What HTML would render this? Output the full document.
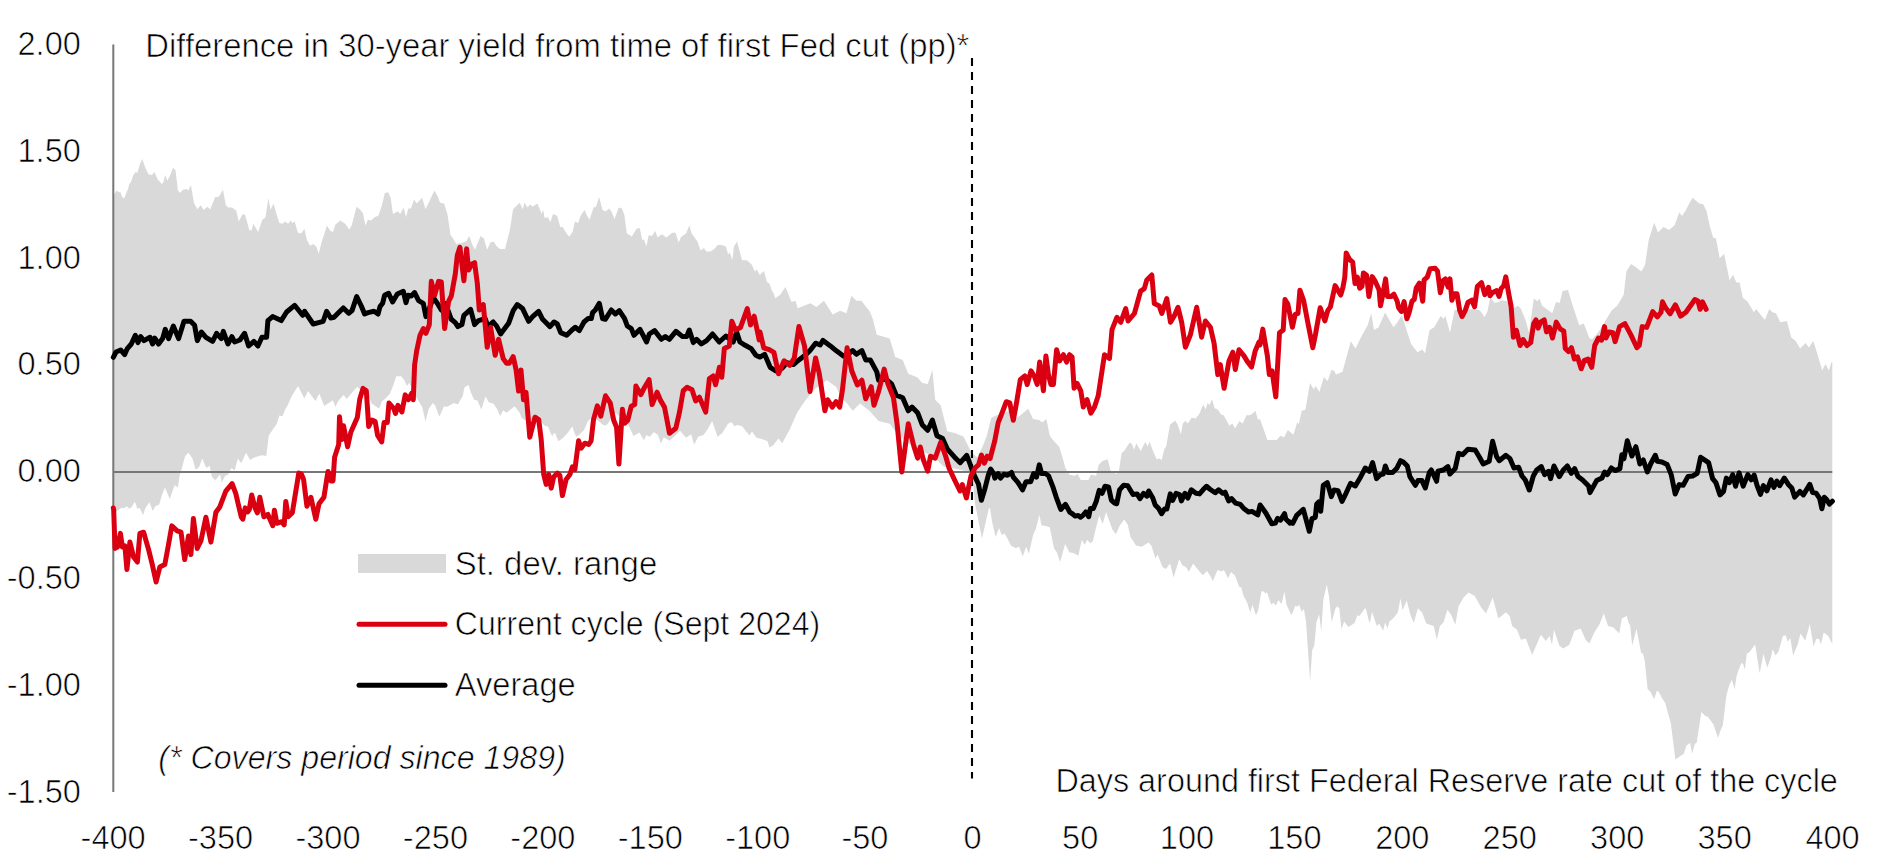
<!DOCTYPE html>
<html><head><meta charset="utf-8"><style>
html,body{margin:0;padding:0;background:#fff;}
body{width:1886px;height:863px;overflow:hidden;}
svg{display:block;font-family:"Liberation Sans", sans-serif;fill:#000;}
text{font-size:33.4px;fill:#000;stroke:#fff;stroke-width:0.7px;}
</style></head><body>
<svg width="1886" height="863" viewBox="0 0 1886 863">
<polygon points="113.3,193.8 114.6,193.8 116.6,190.6 118.7,192.2 120.3,191.9 121.9,196.2 124.0,198.7 126.0,193.8 128.4,188.1 129.2,184.1 130.8,182.4 133.3,175.1 135.7,171.9 137.3,172.7 139.8,164.6 142.2,158.9 145.4,167.8 148.4,174.3 151.9,175.1 154.4,171.9 157.6,179.2 161.7,184.1 163.3,182.4 165.2,175.1 167.3,180.8 170.6,174.3 173.0,167.8 175.5,170.3 177.9,190.6 180.3,193.0 182.8,189.7 186.8,188.9 188.4,190.6 190.9,184.9 194.1,203.5 197.4,209.2 200.6,205.2 203.9,210.0 207.1,206.8 210.3,209.2 215.2,197.0 218.5,197.0 223.0,189.7 225.8,205.2 228.2,207.6 232.2,207.6 236.3,210.8 238.7,221.4 242.8,214.1 245.2,214.9 249.3,230.3 251.7,230.3 253.3,223.8 258.2,231.9 262.3,219.8 265.5,217.3 268.4,197.9 270.4,210.0 273.6,203.5 276.0,212.5 279.3,223.0 282.5,223.8 285.0,221.4 288.2,223.8 290.6,220.6 292.3,223.0 294.7,221.4 297.9,232.7 301.2,233.5 304.4,228.7 306.9,240.0 310.1,245.7 313.4,244.1 316.6,247.3 318.7,253.8 321.5,242.5 324.7,232.7 326.8,225.4 330.4,231.1 333.0,231.9 333.0,231.9 335.4,224.6 340.3,220.6 345.2,223.8 349.2,229.5 351.7,225.4 356.5,206.8 359.8,209.2 363.0,213.3 365.4,225.4 367.9,219.7 371.1,220.6 374.4,217.3 378.4,215.7 381.7,206.0 384.9,193.0 388.2,192.2 390.6,197.8 393.0,214.1 395.5,212.4 397.9,211.6 400.3,214.1 403.6,207.6 406.0,217.3 408.4,208.4 410.9,208.4 414.1,199.5 416.5,203.5 422.2,197.8 425.5,209.2 429.5,201.1 434.4,190.5 437.6,196.2 440.1,202.7 444.1,203.5 447.4,214.1 450.6,235.2 453.1,238.4 456.3,244.1 462.8,242.5 466.0,241.6 469.3,236.0 472.5,244.9 475.0,249.8 480.6,236.0 483.9,238.4 487.1,249.8 490.4,242.5 493.6,241.6 496.9,246.5 500.1,248.9 505.0,248.9 509.8,230.3 513.1,209.2 519.6,202.7 522.8,209.2 524.4,202.7 527.7,207.6 530.1,204.3 532.5,206.8 537.4,203.5 539.8,209.2 541.5,214.1 543.1,210.0 544.7,218.1 548.0,217.3 550.4,222.2 553.0,214.1 553.0,214.1 557.1,215.7 560.3,227.0 562.7,227.0 566.0,232.7 569.2,236.8 572.5,231.9 574.9,221.4 578.1,223.0 580.6,215.7 584.6,210.0 587.1,215.7 589.5,219.7 593.6,207.6 596.0,206.8 599.2,197.0 602.5,210.0 605.7,211.6 609.0,208.4 611.4,211.6 614.6,218.9 618.7,207.6 621.9,208.4 624.4,214.9 626.8,233.5 630.1,235.2 631.7,236.8 636.5,228.7 639.8,227.9 642.2,240.0 643.9,239.2 646.3,246.5 648.7,235.2 652.0,236.0 655.2,231.1 657.6,237.6 661.7,234.3 666.6,237.6 668.2,236.0 672.2,232.7 675.5,232.7 678.7,242.5 681.2,236.8 686.0,233.5 689.3,225.4 691.7,233.5 697.4,241.6 700.6,250.6 703.9,248.1 706.3,251.4 710.4,251.4 714.4,248.9 717.7,244.9 721.7,244.9 725.8,246.5 728.2,254.6 729.8,252.2 732.3,260.3 733.9,246.5 737.1,241.6 742.0,260.3 746.9,260.3 751.7,264.4 755.0,271.7 756.6,269.2 759.8,274.9 763.9,270.9 767.1,282.2 769.6,283.8 772.0,291.1 773.0,291.9 775.4,298.3 780.4,294.6 785.4,287.1 791.6,302.1 795.3,300.8 797.8,308.3 804.1,305.8 810.3,303.3 816.5,307.1 824.0,300.8 832.7,314.5 840.2,310.8 846.4,313.3 851.4,295.8 856.4,300.8 861.4,300.8 870.1,312.0 873.1,320.0 876.8,334.8 889.7,338.5 895.3,357.1 902.7,359.9 908.3,373.8 917.6,377.5 922.2,383.0 927.7,383.9 932.4,370.0 935.2,399.7 940.7,405.3 947.2,431.2 954.6,433.1 963.4,436.5 968.1,445.7 971.5,452.7 977.3,457.3 982.0,448.1 986.6,436.5 991.2,417.9 995.9,415.6 1002.8,414.5 1009.8,409.8 1016.7,417.9 1021.4,414.5 1028.3,408.7 1033.0,419.1 1039.9,420.3 1040.0,421.0 1042.5,422.3 1046.4,419.1 1049.6,435.0 1051.5,438.2 1056.6,443.9 1059.1,446.5 1062.3,456.7 1065.5,468.2 1069.3,474.5 1074.4,475.8 1077.6,473.9 1080.8,480.0 1088.4,480.0 1091.0,474.5 1096.1,475.8 1098.6,465.0 1102.5,461.1 1107.6,459.2 1110.7,470.7 1116.5,473.9 1119.0,470.7 1121.6,452.9 1124.1,450.9 1129.2,443.3 1131.1,442.7 1134.3,449.7 1136.2,443.3 1140.7,450.9 1145.2,442.0 1147.7,446.5 1149.6,441.4 1152.2,449.0 1156.6,459.2 1159.2,458.6 1161.7,459.9 1164.3,449.0 1166.2,446.5 1170.0,424.8 1175.1,420.4 1177.7,424.8 1180.9,434.4 1182.8,423.5 1185.3,421.0 1187.9,423.5 1191.7,417.8 1195.5,418.4 1199.3,414.0 1203.2,404.4 1205.7,409.5 1207.6,403.1 1209.5,405.1 1212.1,399.3 1214.6,408.2 1217.8,409.5 1221.0,414.6 1223.6,415.3 1229.3,425.4 1232.5,423.5 1235.0,428.6 1239.5,421.0 1242.7,423.5 1246.5,415.3 1249.7,415.3 1252.2,414.0 1255.4,410.8 1258.0,419.7 1260.0,419.0 1267.4,440.0 1276.7,440.0 1280.4,435.7 1284.1,437.6 1287.8,430.1 1293.4,434.8 1297.1,422.7 1298.9,423.7 1301.7,410.7 1305.4,409.7 1310.0,382.9 1313.8,389.4 1315.6,385.7 1319.3,392.1 1323.9,377.3 1327.7,381.0 1331.4,369.9 1334.1,370.8 1336.0,374.5 1342.5,371.8 1350.8,341.2 1355.5,348.6 1361.9,335.6 1367.5,325.4 1371.2,313.4 1374.0,330.0 1378.6,327.3 1385.1,312.4 1393.5,327.3 1397.2,322.6 1401.8,315.2 1411.1,343.9 1417.6,352.3 1422.2,349.5 1425.0,353.2 1429.6,330.0 1434.2,327.3 1440.7,316.1 1443.5,318.9 1445.4,316.1 1450.0,332.8 1454.6,309.7 1465.7,310.6 1473.2,308.7 1480.0,310.5 1484.6,317.0 1487.4,311.4 1490.2,297.5 1494.8,303.1 1498.5,302.1 1502.2,300.3 1506.9,301.2 1512.4,308.6 1518.0,305.8 1520.8,308.6 1525.4,319.7 1529.1,332.7 1533.8,298.4 1537.5,301.2 1539.3,298.4 1542.1,305.8 1544.9,307.7 1552.3,313.3 1556.0,302.1 1559.7,303.1 1562.5,291.0 1568.0,290.1 1572.7,305.8 1579.2,325.3 1583.8,323.5 1589.4,338.3 1592.1,339.2 1598.6,331.8 1606.0,319.7 1611.6,310.5 1617.2,305.8 1623.7,294.7 1626.4,271.6 1631.1,264.1 1636.6,267.8 1641.3,271.6 1645.0,265.1 1648.7,240.0 1654.2,222.4 1657.9,232.6 1663.5,227.1 1669.1,229.9 1674.6,225.2 1679.3,212.2 1682.0,215.9 1685.7,210.4 1690.0,202.1 1692.6,197.7 1698.8,203.2 1703.2,204.3 1706.5,210.9 1709.8,226.3 1713.1,237.4 1716.0,238.5 1719.7,258.3 1724.1,253.9 1729.6,280.3 1733.0,274.8 1736.3,282.5 1739.6,282.5 1742.9,297.9 1747.3,301.2 1753.9,312.2 1756.1,308.9 1764.9,320.0 1769.3,308.9 1772.6,312.2 1775.9,313.3 1780.3,322.2 1786.9,321.1 1791.3,337.6 1795.7,340.9 1800.1,348.6 1805.6,343.1 1808.9,347.5 1813.3,340.9 1817.8,355.2 1822.2,370.6 1825.5,364.0 1828.8,370.6 1831.6,361.8 1832.3,362.6 1832.3,643.6 1832.0,643.6 1828.3,636.1 1823.7,632.4 1820.9,644.5 1819.1,638.9 1816.3,638.9 1813.5,646.3 1809.8,624.1 1805.2,640.8 1800.5,633.4 1797.7,644.5 1793.1,655.6 1790.3,638.0 1787.6,641.7 1785.7,635.2 1782.9,636.1 1778.3,651.9 1775.5,655.6 1772.7,649.1 1770.9,657.5 1767.2,667.7 1763.5,653.8 1759.7,673.2 1755.1,644.5 1752.3,648.2 1749.6,651.9 1746.8,653.8 1744.9,669.5 1743.1,663.9 1741.2,663.0 1736.6,676.0 1734.7,689.0 1731.9,679.7 1729.2,685.3 1726.4,695.5 1722.7,726.0 1720.8,729.7 1718.0,738.1 1713.4,724.2 1707.8,716.8 1705.1,715.8 1701.4,712.1 1696.7,742.7 1694.9,743.7 1692.1,753.8 1690.2,742.7 1686.5,745.5 1683.8,753.8 1678.2,757.6 1675.4,759.4 1670.8,723.3 1665.2,702.9 1661.5,697.3 1658.7,691.8 1656.9,690.8 1654.1,699.2 1650.4,691.8 1647.6,689.0 1644.8,661.2 1643.0,653.8 1641.1,652.8 1636.5,628.7 1632.2,645.4 1630.0,624.1 1629.2,624.8 1626.7,616.1 1621.8,618.5 1619.3,633.5 1613.0,627.3 1608.1,626.0 1603.8,613.6 1599.3,624.8 1594.4,632.2 1589.4,643.5 1585.6,639.7 1580.7,628.5 1574.4,631.0 1569.4,644.7 1563.2,648.4 1559.5,645.9 1554.0,629.8 1552.0,644.7 1549.5,636.0 1545.8,641.0 1540.8,634.7 1537.1,643.5 1532.1,654.7 1525.8,638.5 1520.9,639.7 1517.1,629.8 1512.1,626.0 1509.7,616.1 1505.9,612.3 1498.4,618.5 1492.7,597.4 1486.0,613.6 1481.0,607.3 1474.8,596.1 1468.5,592.4 1463.6,597.4 1458.6,606.1 1455.3,624.8 1451.1,614.8 1447.4,609.8 1443.6,622.3 1439.9,626.0 1436.9,639.7 1433.7,626.0 1426.3,623.5 1422.1,612.4 1417.9,608.2 1413.8,622.9 1410.3,614.5 1406.8,600.6 1402.6,610.3 1400.5,598.5 1397.8,612.4 1393.6,618.0 1389.4,621.5 1387.3,628.4 1385.2,622.2 1383.2,630.5 1379.0,623.5 1376.9,626.3 1372.0,611.7 1369.9,622.9 1368.6,620.1 1365.8,608.2 1364.4,608.9 1359.5,615.9 1357.4,615.2 1354.6,622.9 1348.4,627.0 1344.2,621.5 1341.4,629.1 1339.3,608.2 1337.3,606.2 1335.2,608.9 1331.7,622.2 1328.9,595.7 1326.8,584.6 1323.4,599.2 1321.3,631.2 1319.2,614.5 1316.4,622.2 1314.3,645.8 1312.2,650.0 1310.1,681.3 1306.0,621.5 1303.9,608.9 1301.8,611.7 1299.0,604.8 1296.9,606.9 1295.5,605.5 1291.4,615.2 1286.5,604.8 1284.4,591.6 1281.6,604.1 1278.2,599.9 1276.1,605.5 1273.3,602.7 1271.2,604.8 1267.0,592.3 1265.6,593.6 1263.5,591.6 1261.5,590.9 1258.0,611.0 1255.9,615.2 1252.4,604.8 1250.3,612.4 1246.9,602.0 1243.4,595.7 1241.3,587.4 1239.2,586.7 1235.0,575.6 1230.9,572.1 1228.1,578.3 1223.9,570.0 1221.8,571.4 1217.6,570.0 1212.8,581.1 1210.0,575.6 1207.0,571.1 1202.8,575.3 1198.6,570.4 1193.1,563.4 1188.9,571.8 1186.1,566.9 1182.6,565.5 1179.2,559.3 1173.6,577.4 1170.1,563.4 1165.9,569.0 1162.5,566.9 1157.6,554.4 1155.5,558.6 1151.3,545.4 1148.6,542.6 1141.6,546.8 1136.0,545.4 1130.5,537.0 1127.7,524.5 1124.2,519.6 1120.0,525.2 1115.9,534.2 1112.4,529.4 1109.6,521.7 1106.1,512.0 1102.7,523.8 1099.2,515.5 1095.7,528.7 1092.9,541.2 1090.1,543.3 1087.4,539.8 1084.6,544.7 1081.8,539.8 1078.3,555.8 1073.4,553.0 1069.3,552.3 1065.1,544.0 1060.2,562.1 1056.8,552.3 1054.0,548.2 1049.8,527.3 1045.6,525.9 1041.5,525.2 1039.4,514.8 1035.9,528.7 1033.1,534.9 1028.9,553.7 1026.2,546.8 1022.7,556.5 1019.2,546.8 1015.7,548.2 1010.9,545.4 1007.4,538.4 1004.6,533.5 1001.8,534.9 999.0,528.0 995.6,537.0 992.1,521.7 990.0,507.8 988.9,508.3 982.0,538.4 975.0,503.7 971.5,471.2 965.7,471.1 961.1,470.1 952.8,468.3 943.5,466.4 936.1,459.0 928.7,454.4 921.3,450.7 912.0,446.0 902.7,438.6 895.3,431.2 889.7,423.8 878.6,421.0 869.4,410.8 860.1,403.4 852.7,410.8 847.1,403.4 841.6,397.8 836.0,386.7 826.7,380.2 815.6,388.6 810.0,395.1 804.5,401.6 797.1,412.7 789.7,429.4 782.2,443.3 778.5,438.6 773.0,445.4 769.4,447.2 767.6,441.3 761.8,439.0 756.5,437.8 751.9,431.4 749.5,435.5 746.6,432.0 742.0,426.2 737.3,425.0 734.4,426.2 731.5,422.1 728.0,423.8 722.1,433.2 717.5,436.7 712.2,420.9 708.1,428.5 703.5,434.9 698.2,436.7 694.1,444.8 691.2,434.3 686.0,437.8 680.1,430.8 676.6,434.3 669.6,440.7 663.8,437.2 660.9,443.7 658.0,434.9 653.9,432.0 649.8,436.7 646.3,434.9 644.0,440.2 639.3,432.6 633.5,436.1 627.7,423.8 616.0,413.3 613.7,413.3 609.0,422.1 606.1,425.6 603.2,425.0 595.0,418.0 591.5,418.0 588.0,420.9 583.9,430.2 579.8,434.3 576.3,436.7 574.6,433.2 572.2,426.2 568.7,431.4 565.8,434.9 562.3,438.4 558.2,441.3 555.3,433.2 553.0,433.7 553.0,436.2 551.2,434.6 548.0,426.5 544.7,425.7 540.7,421.6 535.8,418.4 527.7,421.6 522.0,418.4 519.6,412.7 514.7,406.2 506.6,412.7 503.3,410.3 500.1,416.0 496.9,408.7 493.6,403.8 488.7,402.2 485.5,396.5 481.4,409.5 477.4,400.6 474.1,399.7 470.9,392.4 468.5,385.1 464.4,387.6 462.8,395.7 457.9,404.6 453.9,403.0 446.6,407.0 444.1,406.2 439.3,416.8 435.2,405.4 432.8,403.0 428.7,408.7 425.5,421.6 422.2,407.0 417.4,398.9 412.5,390.0 409.2,382.7 406.8,386.0 404.4,380.3 401.1,376.2 396.3,376.2 393.0,386.0 389.8,394.1 384.9,398.9 381.7,401.4 379.2,408.7 376.8,407.0 371.9,403.8 365.4,388.4 360.6,390.0 357.3,386.8 350.8,394.1 346.8,398.9 343.5,394.9 337.9,401.4 335.4,407.0 333.0,400.6 331.7,401.0 324.2,406.0 319.3,393.6 315.5,401.0 308.0,391.1 304.3,398.5 298.1,386.1 291.8,396.1 287.4,405.7 285.0,409.7 282.5,416.2 279.3,415.4 276.9,423.5 272.0,430.8 268.7,435.7 266.3,456.0 262.3,455.2 259.0,456.0 254.1,457.6 250.1,460.0 246.0,452.7 241.2,463.3 237.9,458.4 234.7,470.6 231.4,468.1 228.2,474.6 224.9,476.2 221.7,482.7 220.1,474.6 215.2,480.3 212.0,477.1 209.5,465.7 206.3,468.1 202.2,458.4 199.0,467.3 195.7,469.8 192.5,458.4 188.4,452.7 185.2,456.0 181.9,468.1 179.5,476.2 177.9,487.6 174.6,485.2 169.8,499.0 164.9,487.6 161.7,495.7 159.2,504.6 155.2,506.3 152.7,511.1 149.5,502.2 145.4,507.9 143.0,515.2 139.8,507.9 137.3,508.7 134.9,501.4 131.7,507.1 129.2,508.7 126.8,506.3 124.4,507.9 121.1,507.9 117.9,510.3 114.6,513.6 113.3,513.6" fill="#d9d9d9"/>
<line x1="113.3" y1="472.0" x2="1832.3" y2="472.0" stroke="#777" stroke-width="2"/>
<line x1="113.3" y1="44.5" x2="113.3" y2="792" stroke="#777" stroke-width="2"/>
<line x1="972" y1="58" x2="972" y2="778.6" stroke="#000" stroke-width="2.1" stroke-dasharray="8,6"/>
<polyline points="113.3,357.3 113.3,357.3 116.0,352.0 120.7,350.0 124.7,354.6 127.3,348.6 131.3,344.0 135.3,335.3 138.0,342.6 140.6,336.6 144.0,340.6 150.0,337.3 152.6,344.0 154.6,338.0 158.6,344.0 162.6,338.6 165.3,329.3 168.6,338.6 173.3,326.0 178.6,338.6 184.0,321.3 190.6,321.3 194.6,325.3 197.3,340.6 201.3,332.0 205.9,337.3 212.6,341.3 216.6,333.3 221.3,338.6 223.3,331.3 227.9,344.0 231.9,336.6 234.6,342.0 239.9,340.0 244.6,333.3 248.6,346.0 253.9,341.3 257.9,346.0 261.9,337.3 266.6,337.3 267.9,320.6 272.6,316.6 281.2,320.6 286.6,312.0 294.6,305.3 302.6,315.3 304.6,311.3 313.2,324.0 318.6,322.6 323.2,321.3 326.6,311.3 330.7,318.0 334.0,317.3 338.7,312.6 343.3,308.0 348.7,313.3 352.0,310.6 356.7,296.6 361.3,306.0 364.6,314.0 368.0,312.6 374.0,311.3 378.0,314.0 380.0,306.6 382.6,303.3 384.6,295.3 388.6,293.3 392.6,302.0 397.3,294.0 403.3,291.3 406.0,302.6 408.0,295.3 411.3,296.0 414.6,292.6 418.6,300.6 423.3,303.3 425.9,316.6 429.3,308.6 433.3,297.3 437.3,303.3 441.3,310.0 444.6,303.3 447.9,310.0 451.3,319.3 455.3,322.6 457.9,326.6 461.9,324.6 463.9,315.3 470.6,309.3 474.6,324.6 478.6,320.6 485.2,318.6 487.9,326.6 493.2,322.0 496.6,326.0 500.6,334.0 508.6,323.3 513.2,310.6 517.2,304.6 522.6,308.6 528.6,321.3 532.6,316.6 538.6,311.3 542.6,319.3 550.0,326.6 554.0,322.0 557.3,324.0 560.7,332.6 566.7,335.3 572.0,330.0 575.3,327.3 579.3,330.6 584.0,322.0 588.0,318.6 591.3,318.6 592.6,312.6 595.3,310.0 599.3,303.3 602.6,318.6 605.3,319.3 611.3,310.0 615.3,314.0 619.3,310.6 624.6,318.6 627.3,326.0 631.3,328.6 634.0,335.3 640.0,329.3 646.6,342.0 649.3,334.0 654.6,330.6 661.3,339.3 665.3,336.6 669.3,339.3 675.9,331.3 682.6,336.6 686.6,336.6 689.3,330.0 693.3,342.6 696.6,339.3 701.3,344.0 706.6,340.6 712.6,334.0 719.2,342.0 725.9,336.0 733.2,342.0 736.6,332.0 739.9,342.0 745.2,345.3 751.2,348.6 755.9,355.3 760.0,357.1 764.6,354.3 770.2,367.3 775.8,371.0 782.2,368.2 786.9,362.6 793.4,364.5 798.9,359.9 806.3,354.3 810.0,350.6 815.6,343.2 820.2,345.0 823.0,340.4 830.4,345.9 836.0,350.6 843.4,356.1 849.0,353.4 852.7,350.6 856.4,354.3 861.9,350.6 865.7,359.9 870.3,359.9 876.8,371.9 878.6,380.2 886.0,379.3 891.6,383.9 896.2,395.1 902.7,397.8 908.3,410.8 912.0,407.1 917.6,412.7 922.2,424.7 927.7,430.3 932.4,420.1 937.0,435.8 942.6,438.6 947.2,448.8 954.6,457.2 960.2,462.7 966.7,455.3 969.3,462.0 972.2,470.1 975.1,477.1 978.5,484.0 981.4,500.2 984.9,488.7 988.4,474.8 990.7,469.0 993.6,473.6 994.8,478.2 998.2,473.6 1000.5,478.2 1004.0,474.2 1007.5,475.3 1011.5,472.4 1013.3,477.1 1017.9,482.3 1022.6,489.8 1026.0,481.7 1030.7,481.7 1033.6,473.6 1036.5,477.1 1039.3,464.9 1041.7,473.6 1045.7,473.6 1048.6,475.9 1052.7,486.3 1056.1,496.8 1060.8,509.5 1065.4,504.3 1070.0,512.4 1072.3,513.7 1075.2,516.1 1078.2,515.5 1080.5,517.2 1082.8,515.5 1085.7,512.0 1088.7,516.7 1090.4,508.5 1093.3,508.5 1096.2,501.5 1099.2,490.4 1102.1,493.3 1105.0,486.3 1108.5,486.9 1111.4,500.3 1114.9,503.2 1116.7,503.8 1119.6,489.8 1123.7,485.2 1127.7,485.7 1133.0,494.5 1137.1,493.9 1140.0,498.6 1143.5,493.3 1147.0,496.2 1148.7,491.0 1152.8,498.0 1155.2,505.0 1158.7,508.5 1161.6,513.7 1164.5,509.1 1166.8,509.1 1170.3,493.9 1172.6,500.3 1176.1,493.3 1179.6,494.5 1181.4,500.9 1184.9,493.3 1187.8,498.0 1191.3,489.8 1196.0,493.3 1199.5,493.9 1203.0,489.8 1206.5,486.3 1210.0,489.2 1215.2,492.7 1218.7,489.8 1222.8,493.3 1225.1,492.2 1228.6,500.9 1231.6,498.6 1235.6,503.2 1240.3,504.4 1243.8,508.5 1248.5,512.0 1252.0,511.4 1257.8,514.9 1260.1,505.0 1266.0,513.2 1271.8,523.7 1275.3,523.1 1277.6,518.4 1280.5,520.2 1284.6,513.7 1285.8,519.0 1290.0,523.1 1290.0,522.0 1292.7,523.3 1296.7,515.3 1303.3,509.3 1309.3,531.3 1312.0,518.6 1315.3,517.3 1316.7,504.0 1318.7,502.0 1320.7,511.3 1323.3,485.3 1327.3,482.6 1331.3,496.6 1334.0,490.0 1338.0,490.6 1342.0,501.3 1346.0,493.3 1350.6,483.3 1355.3,486.0 1359.3,479.3 1365.3,468.0 1369.3,471.3 1372.6,462.6 1376.6,478.6 1380.6,474.6 1383.3,474.0 1385.3,466.0 1387.9,472.6 1392.6,472.6 1396.6,468.6 1400.6,460.7 1403.3,462.0 1407.3,466.0 1409.9,476.6 1415.3,485.3 1417.9,480.6 1421.9,480.6 1425.3,488.0 1429.3,472.6 1431.3,470.0 1436.6,481.3 1437.9,471.3 1443.3,470.0 1447.9,466.6 1449.9,474.0 1455.2,468.6 1458.6,453.3 1462.6,454.7 1467.9,449.3 1475.2,450.0 1479.2,456.7 1483.2,464.0 1489.2,461.3 1492.6,441.3 1496.6,456.7 1499.2,460.7 1505.9,455.3 1510.0,458.7 1514.0,468.0 1518.7,467.3 1522.0,476.0 1525.3,480.0 1529.3,490.0 1533.3,476.0 1536.7,470.0 1541.3,466.6 1544.6,474.6 1548.6,471.3 1550.6,478.6 1554.0,466.0 1559.3,476.6 1563.3,470.0 1567.3,466.0 1571.3,473.3 1574.6,468.6 1578.0,476.6 1582.6,480.0 1588.6,486.0 1590.0,492.6 1596.6,480.6 1602.0,478.0 1604.6,472.0 1607.3,474.6 1611.3,468.0 1615.3,470.6 1619.9,468.6 1621.9,454.7 1623.9,458.7 1627.3,440.7 1631.9,456.0 1635.9,446.7 1639.9,464.0 1643.3,460.0 1647.3,472.0 1650.6,464.0 1655.3,455.3 1657.3,461.3 1661.9,462.0 1667.2,464.6 1671.2,474.6 1675.2,494.0 1679.2,484.6 1683.2,485.3 1687.9,476.6 1692.6,476.0 1697.2,473.3 1700.6,457.3 1708.6,462.6 1712.6,478.6 1715.9,482.6 1720.0,494.9 1723.5,491.4 1726.4,478.1 1729.3,482.7 1732.7,474.6 1735.6,486.2 1739.1,472.9 1743.2,486.2 1747.8,474.6 1751.3,479.8 1754.2,475.2 1757.1,485.6 1760.5,494.3 1763.4,485.6 1766.9,490.8 1771.0,479.8 1773.9,487.3 1776.8,481.0 1779.7,485.6 1784.3,478.1 1788.3,484.4 1791.8,487.9 1794.7,497.2 1799.9,491.4 1803.4,494.9 1809.8,484.4 1812.7,492.6 1816.1,493.1 1819.6,498.3 1821.9,508.8 1824.3,497.2 1826.6,499.5 1829.5,504.1 1832.4,501.2" fill="none" stroke="#000" stroke-width="5" stroke-linejoin="round" stroke-linecap="round"/>
<polyline points="113.3,508.0 113.7,509.8 115.0,548.4 117.5,547.1 120.4,533.4 122.4,547.1 124.9,545.9 126.9,569.5 129.9,542.1 133.6,557.1 137.4,562.1 139.9,533.4 143.6,532.2 148.6,549.6 152.3,564.6 156.1,582.0 159.8,567.1 164.8,564.6 168.5,544.6 171.8,525.9 177.2,530.9 181.0,532.2 184.7,559.6 188.5,535.9 190.9,554.6 193.4,518.5 197.2,548.4 200.9,540.9 205.9,517.2 210.9,542.1 215.9,512.2 219.6,507.3 225.8,491.1 232.1,483.6 235.8,493.6 241.2,516.8 242.8,519.2 245.2,507.9 247.7,511.9 249.3,509.5 251.7,494.9 255.0,507.9 257.4,512.8 259.8,497.3 263.9,516.8 267.9,514.4 272.8,525.7 274.4,510.3 276.9,523.3 281.7,521.7 284.2,524.9 285.8,501.4 288.2,516.8 292.3,512.8 298.8,473.0 301.2,473.8 303.6,479.5 306.9,506.3 310.9,497.3 315.8,519.2 319.0,503.8 323.9,497.3 328.0,471.4 331.2,481.1 333.0,480.9 334.6,457.3 338.7,444.4 339.5,416.8 341.9,439.5 343.5,425.7 347.6,446.8 350.8,432.2 357.3,417.6 359.8,398.9 363.0,388.4 366.3,390.8 368.7,426.5 371.9,420.0 375.2,421.6 377.6,435.4 381.7,441.9 384.1,422.5 387.3,422.5 389.0,403.0 393.8,408.7 395.5,413.5 397.9,405.4 401.9,411.9 405.2,394.9 408.4,399.7 411.7,393.3 413.3,399.7 414.6,365.0 416.6,351.3 420.0,335.3 423.3,328.6 425.9,333.3 429.3,324.6 431.3,281.3 434.6,295.3 438.6,281.3 441.3,282.0 444.6,328.6 448.6,301.3 451.3,296.0 455.3,274.0 457.3,255.3 459.9,247.3 463.9,280.7 466.6,248.7 468.6,270.0 471.9,264.0 474.6,262.7 477.3,283.3 479.3,310.0 483.3,304.6 487.2,347.3 490.6,327.3 495.2,355.3 498.6,339.3 503.2,358.6 506.6,363.3 509.2,363.3 513.2,356.6 516.1,369.9 518.6,391.1 521.0,369.9 523.5,399.8 526.0,392.3 529.8,437.2 535.0,417.2 538.7,419.6 541.2,439.5 543.7,474.4 546.2,484.4 548.7,474.4 551.2,488.1 553.7,476.9 557.4,473.1 559.9,475.6 562.4,495.6 566.1,479.4 569.9,474.4 572.4,466.9 574.9,469.4 578.6,440.8 581.1,448.2 584.8,443.2 588.6,444.5 591.1,440.8 593.5,419.6 597.3,405.9 600.8,416.2 605.5,395.8 610.2,402.8 613.7,420.3 616.6,427.3 618.9,464.1 622.4,409.2 624.7,423.2 627.7,420.3 631.2,406.3 634.7,404.6 635.9,385.9 640.9,394.7 644.6,387.2 649.1,379.7 652.1,404.6 657.1,392.2 660.8,400.9 664.5,407.1 669.5,433.3 675.8,428.3 679.5,412.1 683.2,390.9 687.0,387.2 692.0,389.7 695.7,400.9 699.4,397.2 705.7,412.1 709.4,378.5 713.1,376.0 715.6,384.7 719.4,367.3 721.8,377.2 724.3,348.6 729.3,346.1 731.8,321.2 735.5,329.9 740.5,327.4 747.3,308.7 750.5,324.9 754.2,316.2 759.2,339.9 760.0,332.0 763.7,347.8 769.3,349.7 773.9,352.4 778.5,373.8 784.1,360.8 789.7,365.4 794.3,358.0 798.9,326.5 804.5,345.9 810.0,391.4 815.6,358.0 819.3,373.8 824.9,410.8 827.7,399.7 832.3,407.1 836.0,401.6 839.7,407.1 842.5,389.5 847.1,347.8 851.8,371.0 857.3,384.9 861.9,380.2 865.7,398.8 871.2,386.7 874.0,405.3 878.6,391.4 884.2,369.1 887.9,383.9 893.5,397.8 897.2,424.7 901.8,472.0 908.3,423.8 913.8,446.0 917.6,458.1 920.3,447.0 923.1,459.0 927.7,471.1 930.5,456.2 935.2,458.1 940.7,442.3 945.4,455.3 949.1,468.3 954.6,480.0 960.0,491.0 962.3,484.6 966.4,497.9 969.3,484.0 971.0,475.9 975.1,467.8 978.5,464.9 981.4,455.1 984.3,463.2 987.2,456.2 990.1,458.5 994.7,441.1 998.2,422.6 1002.8,411.0 1006.3,401.7 1009.8,402.9 1013.3,420.3 1016.7,401.7 1020.3,379.6 1024.8,375.8 1027.2,384.5 1031.0,370.8 1034.7,377.1 1037.2,384.5 1039.7,362.1 1043.4,390.8 1045.9,355.9 1048.4,374.6 1050.9,384.5 1053.4,384.5 1056.6,349.7 1059.6,360.9 1063.4,354.7 1066.6,362.1 1069.6,354.7 1072.1,357.1 1074.1,388.3 1077.1,383.3 1080.8,390.8 1083.3,407.0 1087.0,399.5 1090.8,413.2 1094.5,407.0 1098.2,395.8 1104.5,354.7 1109.5,358.4 1112.0,329.7 1116.9,317.3 1120.7,322.3 1125.7,308.6 1128.1,321.0 1134.4,313.5 1140.6,291.1 1144.3,288.6 1146.8,279.9 1151.8,274.9 1154.3,303.6 1159.3,306.1 1161.8,313.5 1166.8,298.6 1170.5,322.3 1174.2,316.0 1178.0,307.3 1181.7,322.3 1185.4,347.2 1190.4,334.7 1196.7,307.3 1201.6,337.2 1205.4,321.0 1210.4,327.2 1214.1,343.4 1217.8,374.6 1220.3,364.6 1224.1,388.3 1229.0,360.9 1232.8,352.2 1235.3,369.6 1239.0,349.7 1244.0,355.9 1247.7,362.1 1251.5,367.1 1255.2,350.9 1258.9,342.2 1260.0,344.9 1262.8,329.1 1267.4,356.0 1269.3,374.5 1272.0,370.8 1275.8,396.8 1279.5,332.8 1283.2,330.0 1285.0,299.5 1287.8,304.1 1292.4,327.3 1295.2,314.3 1298.0,313.4 1299.9,290.2 1303.6,300.4 1308.2,324.5 1312.8,347.7 1315.6,333.8 1320.2,307.8 1324.9,320.8 1327.7,310.6 1330.4,306.9 1335.1,285.6 1340.7,295.1 1343.0,287.3 1344.8,277.1 1346.2,253.0 1349.5,259.5 1352.7,262.2 1355.0,283.6 1357.3,277.1 1359.7,288.2 1362.0,286.3 1363.4,272.9 1366.6,275.2 1368.9,296.5 1372.2,276.6 1375.4,281.7 1379.1,290.0 1380.5,305.8 1382.8,294.7 1385.6,278.9 1387.5,296.5 1391.2,296.5 1393.9,294.2 1397.2,301.2 1398.6,307.7 1401.4,311.4 1404.1,301.6 1406.9,318.8 1409.2,312.3 1412.0,301.2 1414.3,299.3 1416.2,288.2 1419.4,283.1 1422.7,301.2 1424.1,279.9 1427.3,277.1 1430.1,268.7 1435.2,268.3 1437.5,271.0 1440.3,292.8 1443.1,280.8 1445.4,278.9 1448.2,287.3 1450.0,278.9 1451.9,300.2 1454.2,293.8 1457.0,293.8 1459.7,310.4 1462.1,316.5 1465.3,310.4 1468.1,302.1 1471.8,300.2 1474.6,306.7 1477.4,286.3 1481.5,282.6 1484.8,294.7 1488.5,287.3 1490.0,295.8 1492.3,292.7 1496.8,290.5 1499.0,296.5 1501.3,288.2 1503.6,286.0 1505.8,276.9 1508.8,294.2 1511.1,306.3 1513.4,337.2 1516.4,330.4 1520.1,345.5 1523.2,339.5 1526.9,345.5 1530.7,342.5 1533.7,323.6 1536.0,319.9 1538.2,328.2 1540.5,322.1 1544.2,319.9 1546.5,331.9 1549.5,327.4 1552.5,338.0 1556.3,322.1 1560.1,328.9 1563.8,331.2 1565.3,348.5 1568.4,351.5 1571.4,347.7 1574.4,359.0 1577.4,356.8 1581.2,368.8 1584.2,360.6 1588.0,359.0 1591.7,367.3 1594.7,345.5 1598.5,338.0 1601.5,340.2 1604.5,326.6 1606.0,338.0 1609.0,331.9 1612.8,332.7 1615.1,341.7 1619.6,326.6 1624.9,323.6 1630.9,334.9 1636.9,347.7 1639.2,345.5 1642.2,326.6 1646.7,327.4 1652.7,311.6 1657.3,316.9 1661.0,312.3 1662.5,301.8 1665.6,307.8 1670.1,313.8 1675.4,304.8 1680.6,316.1 1685.9,312.3 1691.2,304.8 1694.9,299.5 1698.0,301.0 1700.2,309.3 1702.5,301.8 1706.2,309.3" fill="none" stroke="#db0011" stroke-width="5" stroke-linejoin="round" stroke-linecap="round"/>
<rect x="358" y="554" width="88" height="19" fill="#d9d9d9"/>
<line x1="359" y1="624.3" x2="445" y2="624.3" stroke="#db0011" stroke-width="5" stroke-linecap="round"/>
<line x1="359" y1="685.2" x2="445" y2="685.2" stroke="#000" stroke-width="5" stroke-linecap="round"/>
<g class="t"><text transform="matrix(0.9831 0 0 1 145.35 57.40)">Difference in 30-year yield from time of first Fed cut (pp)*</text>
<text transform="matrix(0.9696 0 0 1 1055.39 792.20)">Days around first Federal Reserve rate cut of the cycle</text>
<text transform="matrix(0.9630 0 0 1 158.37 769.20)" font-style="italic">(* Covers period since 1989)</text>
<text transform="matrix(0.9856 0 0 1 454.73 575.10)">St. dev. range</text>
<text transform="matrix(0.9604 0 0 1 454.78 635.20)">Current cycle (Sept 2024)</text>
<text transform="matrix(0.9769 0 0 1 454.82 695.70)">Average</text>
<text transform="matrix(0.9750 0 0 1 17.48 55.00)">2.00</text>
<text transform="matrix(0.9750 0 0 1 17.48 161.80)">1.50</text>
<text transform="matrix(0.9750 0 0 1 17.48 268.60)">1.00</text>
<text transform="matrix(0.9750 0 0 1 17.48 375.40)">0.50</text>
<text transform="matrix(0.9750 0 0 1 17.48 482.20)">0.00</text>
<text transform="matrix(0.9750 0 0 1 6.75 589.00)">-0.50</text>
<text transform="matrix(0.9750 0 0 1 6.75 695.80)">-1.00</text>
<text transform="matrix(0.9750 0 0 1 6.75 802.60)">-1.50</text>
<text transform="matrix(0.9750 0 0 1 80.54 848.80)">-400</text>
<text transform="matrix(0.9750 0 0 1 187.97 848.80)">-350</text>
<text transform="matrix(0.9750 0 0 1 295.41 848.80)">-300</text>
<text transform="matrix(0.9750 0 0 1 402.85 848.80)">-250</text>
<text transform="matrix(0.9750 0 0 1 510.29 848.80)">-200</text>
<text transform="matrix(0.9750 0 0 1 617.73 848.80)">-150</text>
<text transform="matrix(0.9750 0 0 1 725.16 848.80)">-100</text>
<text transform="matrix(0.9750 0 0 1 841.38 848.80)">-50</text>
<text transform="matrix(0.9750 0 0 1 963.44 848.80)">0</text>
<text transform="matrix(0.9750 0 0 1 1062.10 848.80)">50</text>
<text transform="matrix(0.9750 0 0 1 1159.79 848.80)">100</text>
<text transform="matrix(0.9750 0 0 1 1267.23 848.80)">150</text>
<text transform="matrix(0.9750 0 0 1 1375.15 848.80)">200</text>
<text transform="matrix(0.9750 0 0 1 1482.59 848.80)">250</text>
<text transform="matrix(0.9750 0 0 1 1590.03 848.80)">300</text>
<text transform="matrix(0.9750 0 0 1 1697.46 848.80)">350</text>
<text transform="matrix(0.9750 0 0 1 1805.39 848.80)">400</text></g>
</svg>
</body></html>
